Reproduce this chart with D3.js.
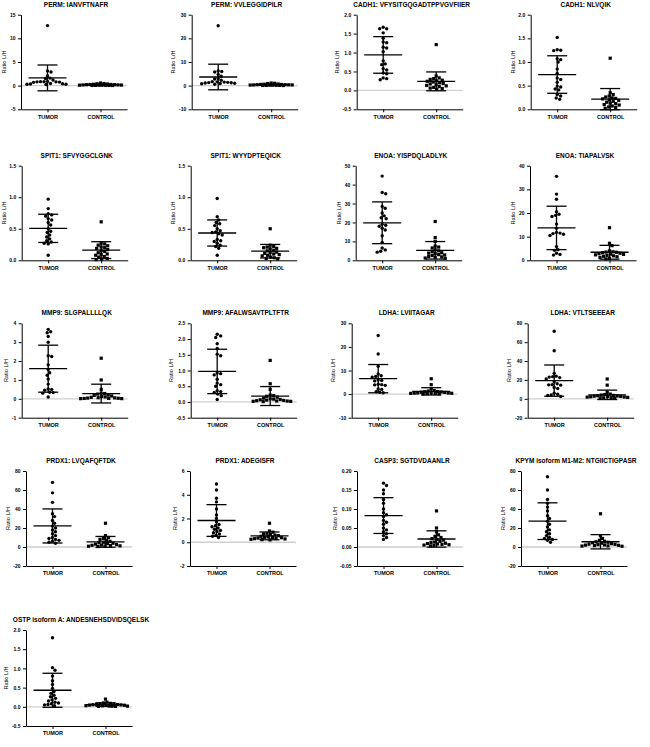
<!DOCTYPE html>
<html><head><meta charset="utf-8">
<script src="https://cdn.jsdelivr.net/npm/d3@7"></script>
<style>
body{margin:0;background:#fff}
svg{display:block}
text{font-family:"Liberation Sans",Arial,sans-serif}
</style>
</head><body>
<svg id="c" width="650" height="747"></svg>
<script>
// ---------------- data ----------------
const panelTitles = [
  "PERM: IANVFTNAFR", "PERM: VVLEGGIDPILR", "CADH1: VFYSITGQGADTPPVGVFIIER", "CADH1: NLVQIK",
  "SPIT1: SFVYGGCLGNK", "SPIT1: WYYDPTEQICK", "ENOA: YISPDQLADLYK", "ENOA: TIAPALVSK",
  "MMP9: SLGPALLLLQK", "MMP9: AFALWSAVTPLTFTR", "LDHA: LVIITAGAR", "LDHA: VTLTSEEEAR",
  "PRDX1: LVQAFQFTDK", "PRDX1: ADEGISFR", "CASP3: SGTDVDAANLR", "KPYM isoform M1-M2: NTGIICTIGPASR",
  "OSTP isoform A: ANDESNEHSDVIDSQELSK"
];
const groupLabels = ["TUMOR", "CONTROL"];
const yAxisTitle = "Ratio L/H";

const yTickLabels = [
  ["-5","0","5","10","15"],
  ["-10","0","10","20","30"],
  ["-0.5","0.0","0.5","1.0","1.5","2.0"],
  ["0.0","0.5","1.0","1.5","2.0"],
  ["0.0","0.5","1.0","1.5"],
  ["0.0","0.5","1.0","1.5"],
  ["0","10","20","30","40","50"],
  ["0","10","20","30","40"],
  ["-1","0","1","2","3","4"],
  ["-0.5","0.0","0.5","1.0","1.5","2.0","2.5"],
  ["-10","0","10","20","30"],
  ["-20","0","20","40","60","80"],
  ["-20","0","20","40","60","80"],
  ["-2","0","2","4","6"],
  ["-0.05","0.00","0.05","0.10","0.15","0.20"],
  ["-20","0","20","40","60","80"],
  ["-0.5","0.0","0.5","1.0","1.5","2.0"]
];

const tumorValues = [
  [12.7, 3.1, 2.9, 2.1, 1.6, 1.5, 1.2, 0.9, 0.85, 0.85, 0.8, 0.8, 0.75, 0.7, 0.45, 0.4, 0.35, 0.3, 0.3, 0.25],
  [25.3, 6.2, 6.0, 5.8, 4.7, 4.0, 3.0, 2.8, 2.3, 1.7, 1.6, 1.5, 1.4, 1.3, 1.2, 1.1, 1.0, 0.9, 0.8, 0.6],
  [1.67, 1.63, 1.63, 1.52, 1.38, 1.28, 1.26, 1.14, 1.12, 1.02, 0.78, 0.7, 0.68, 0.57, 0.54, 0.46, 0.44, 0.33, 0.31, 0.28],
  [1.52, 1.26, 1.25, 1.24, 1.07, 1.05, 1.0, 0.85, 0.76, 0.66, 0.63, 0.57, 0.49, 0.47, 0.43, 0.41, 0.31, 0.28, 0.24, 0.21],
  [0.97, 0.82, 0.74, 0.72, 0.7, 0.66, 0.64, 0.6, 0.56, 0.5, 0.46, 0.44, 0.4, 0.37, 0.34, 0.31, 0.29, 0.27, 0.26, 0.08],
  [0.98, 0.69, 0.64, 0.6, 0.58, 0.55, 0.5, 0.47, 0.45, 0.44, 0.42, 0.4, 0.33, 0.31, 0.3, 0.27, 0.24, 0.22, 0.19, 0.08],
  [44.5, 35.8, 35.2, 28.5, 27.5, 25, 23.5, 22.5, 22, 19, 18.5, 18, 17, 16, 13, 9.5, 6.5, 5.5, 4.8, 4.3],
  [35.5, 28, 25.8, 20.5, 19.5, 19, 18.5, 15.3, 13.5, 11.8, 11.5, 11.3, 11, 10.5, 5.8, 4.5, 4.2, 3, 2.5, 2.2],
  [3.68, 3.55, 3.5, 3.3, 3.0, 2.28, 2.24, 1.8, 1.55, 1.38, 1.25, 1.05, 0.78, 0.52, 0.5, 0.45, 0.35, 0.33, 0.3, 0.1],
  [2.15, 2.1, 2.05, 1.85, 1.7, 1.52, 1.47, 0.92, 0.9, 0.86, 0.72, 0.6, 0.55, 0.5, 0.36, 0.33, 0.3, 0.25, 0.2, 0.08],
  [24.8, 17, 11.8, 8.5, 7.8, 7.5, 7.2, 6, 5.8, 5.6, 4.2, 4, 3.9, 3.7, 2.2, 2, 1, 0.8, 0.6],
  [71.5, 51, 27, 24, 23.5, 23, 22.5, 21, 18, 16, 15, 14.8, 14.5, 12, 11, 6, 4.8, 4, 3.5, 2.5],
  [68, 57, 47, 35, 32, 28, 25, 22, 20, 18, 16, 14, 12, 10, 9, 8, 7, 6, 5, 4],
  [4.9, 4.4, 3.7, 3.4, 2.8, 2.3, 2.0, 1.7, 1.5, 1.4, 1.3, 1.2, 1.1, 1.0, 0.9, 0.8, 0.7, 0.6, 0.5, 0.4],
  [0.168, 0.162, 0.15, 0.14, 0.125, 0.115, 0.1, 0.09, 0.085, 0.08, 0.07, 0.065, 0.06, 0.05, 0.045, 0.04, 0.035, 0.03, 0.025, 0.02],
  [74, 60, 50, 46, 42, 38, 33, 30, 27, 24, 21, 18, 16, 14, 12, 10, 9, 8, 7, 5],
  [1.8, 1.02, 0.95, 0.8, 0.68, 0.58, 0.48, 0.4, 0.35, 0.3, 0.26, 0.22, 0.18, 0.15, 0.12, 0.1, 0.08, 0.06, 0.05, 0.03]
];

const controlValues = [
  [0.55, 0.45, 0.4, 0.35, 0.3, 0.25, 0.25, 0.2, 0.2, 0.15, 0.15, 0.12, 0.1, 0.1, 0.08, 0.07, 0.05, 0.05, 0.04, 0.03],
  [1.1, 1.0, 0.9, 0.7, 0.6, 0.5, 0.5, 0.4, 0.4, 0.35, 0.3, 0.3, 0.25, 0.2, 0.2, 0.15, 0.1, 0.1, 0.08, 0.05],
  [1.21, 0.38, 0.33, 0.31, 0.29, 0.27, 0.25, 0.24, 0.22, 0.2, 0.18, 0.17, 0.15, 0.13, 0.12, 0.1, 0.08, 0.06, 0.05, 0.03],
  [1.08, 0.35, 0.31, 0.28, 0.26, 0.24, 0.23, 0.22, 0.2, 0.19, 0.17, 0.15, 0.13, 0.12, 0.1, 0.09, 0.07, 0.05, 0.04, 0.02],
  [0.61, 0.27, 0.26, 0.24, 0.23, 0.21, 0.2, 0.19, 0.17, 0.15, 0.14, 0.12, 0.1, 0.09, 0.08, 0.06, 0.05, 0.03, 0.02, 0.01],
  [0.5, 0.24, 0.22, 0.21, 0.2, 0.19, 0.18, 0.16, 0.15, 0.13, 0.12, 0.11, 0.1, 0.09, 0.08, 0.07, 0.05, 0.04, 0.03, 0.02],
  [20.5, 12, 10, 7.5, 7, 6.5, 5.5, 5, 4.5, 4, 3.8, 3.5, 3, 2.8, 2.5, 2, 1.8, 1.5, 1.2, 1],
  [13.8, 7.2, 6.2, 4, 3.6, 3.5, 3.4, 3.2, 3, 2.8, 2.6, 2.5, 2.3, 2.1, 1.9, 1.7, 1.5, 1.2, 0.9, 0.6],
  [2.15, 1.0, 0.5, 0.3, 0.28, 0.25, 0.2, 0.18, 0.15, 0.12, 0.1, 0.08, 0.06, 0.05, 0.04, 0.03, 0.02, 0.02, 0.01, 0.01],
  [1.32, 0.58, 0.4, 0.22, 0.2, 0.18, 0.15, 0.12, 0.1, 0.09, 0.08, 0.07, 0.06, 0.05, 0.04, 0.03, 0.03, 0.02, 0.02, 0.01],
  [6.5, 4, 2.2, 1.5, 1.3, 1.1, 1, 0.9, 0.8, 0.7, 0.6, 0.5, 0.45, 0.4, 0.35, 0.3, 0.25, 0.2, 0.15, 0.1],
  [21, 14.5, 7, 5, 4.5, 4, 3.6, 3.3, 3, 2.8, 2.6, 2.4, 2.2, 2, 1.8, 1.5, 1.2, 1, 0.8, 0.5],
  [25, 12, 10, 9, 8, 7, 6, 5, 4.5, 4, 3.5, 3, 2.5, 2, 1.8, 1.5, 1.2, 1, 0.8, 0.5],
  [1.6, 0.95, 0.85, 0.75, 0.7, 0.65, 0.6, 0.55, 0.5, 0.45, 0.42, 0.4, 0.38, 0.35, 0.32, 0.3, 0.28, 0.25, 0.22, 0.2],
  [0.095, 0.05, 0.04, 0.032, 0.028, 0.025, 0.022, 0.02, 0.018, 0.015, 0.013, 0.012, 0.01, 0.009, 0.008, 0.007, 0.006, 0.005, 0.004, 0.003],
  [35, 12, 9, 7, 6, 5.5, 5, 4.5, 4, 3.5, 3, 2.8, 2.5, 2.2, 2, 1.8, 1.5, 1.2, 1, 0.8],
  [0.2, 0.12, 0.1, 0.09, 0.08, 0.07, 0.065, 0.06, 0.055, 0.05, 0.045, 0.04, 0.035, 0.03, 0.025, 0.02, 0.018, 0.015, 0.012, 0.01]
];

// ---------------- layout ----------------
const rowLayout = [
  {top: 14.7,  bottom: 109.3, axisX: [21, 191.7, 356.7, 530.7]},
  {top: 165.7, bottom: 260.3, axisX: [21.7, 190.7, 355.7, 530]},
  {top: 323.3, bottom: 417.7, axisX: [21.7, 190.7, 351.7, 527.7]},
  {top: 471,   bottom: 566,   axisX: [26, 190, 357, 521]},
  {top: 630,   bottom: 726,   axisX: [26]}
];
const AXW = 106;

const svg = d3.select("#c");

// Prism-like scatter: spread coincident points sideways, overlapping when crowded
function swarm(vals, cx, y, d, maxOff) {
  const pts = vals.map(v => ({v, py: y(v)})).sort((a, b) => a.py - b.py);
  const placed = [];
  const cands = [0];
  for (let k = 1; k * 0.5 <= maxOff; k++) { cands.push(k * 0.5, -k * 0.5); }
  pts.forEach(p => {
    let best = null, bestDist = -1;
    for (const o of cands) {
      const px = cx + o;
      let md = Infinity;
      for (const q of placed) md = Math.min(md, Math.hypot(q.px - px, q.py - p.py));
      if (md >= d) { best = px; break; }
      if (md > bestDist + 0.05) { bestDist = md; best = px; }
    }
    p.px = best; placed.push(p);
  });
  return pts;
}

panelTitles.forEach((title, i) => {
  const row = rowLayout[Math.floor(i / 4)];
  const ax = row.axisX[i % 4];
  const ticks = yTickLabels[i].map(Number);
  const y = d3.scaleLinear().domain(d3.extent(ticks)).range([row.bottom, row.top]);
  const x = d3.scalePoint().domain(groupLabels).range([ax, ax + AXW]).padding(0.5);
  const g = svg.append("g");

  // zero reference line
  if (y.domain()[0] < 0) {
    g.append("line").attr("x1", ax).attr("x2", ax + AXW)
      .attr("y1", y(0)).attr("y2", y(0))
      .attr("stroke", "#cfcfcf").attr("stroke-width", 1.3);
  }

  // y axis
  const ya = g.append("g").attr("transform", `translate(${ax},0)`)
    .call(d3.axisLeft(y).tickValues(ticks).tickFormat((d, k) => yTickLabels[i][k])
      .tickSize(3).tickSizeOuter(0).tickPadding(2.5));
  ya.attr("font-size", null).attr("font-family", null);
  ya.selectAll("text").attr("font-size", 5).attr("font-weight", "bold").attr("fill", "#000");
  ya.selectAll("line,path").attr("stroke", "#000").attr("stroke-width", 1);

  let maxW = 0;
  ya.selectAll("text").each(function () { maxW = Math.max(maxW, this.getComputedTextLength()); });

  // x axis
  const xa = g.append("g").attr("transform", `translate(0,${row.bottom})`)
    .call(d3.axisBottom(x).tickSize(3).tickSizeOuter(0).tickPadding(2.5));
  xa.attr("font-size", null).attr("font-family", null);
  xa.selectAll("text").attr("font-size", 5.5).attr("font-weight", "bold").attr("fill", "#000");
  xa.selectAll("line,path").attr("stroke", "#000").attr("stroke-width", 1);

  // y axis title
  g.append("text")
    .attr("transform", `translate(${ax - 3 - 2.5 - maxW - 3.5},${(row.top + row.bottom) / 2}) rotate(-90)`)
    .attr("text-anchor", "middle").attr("font-size", 5.5).attr("fill", "#000")
    .text(yAxisTitle);

  // panel title
  g.append("text")
    .attr("x", ax + AXW / 2 + 2).attr("y", row.top - 8)
    .attr("text-anchor", "middle").attr("font-size", 6.5).attr("font-weight", "bold")
    .text(title);

  // groups
  [tumorValues[i], controlValues[i]].forEach((vals, gi) => {
    const cx = x(groupLabels[gi]);
    const m = d3.mean(vals), sd = d3.deviation(vals);
    const eb = g.append("g").attr("stroke", "#000").attr("stroke-width", 1.3);
    eb.append("line").attr("x1", cx).attr("x2", cx).attr("y1", y(m - sd)).attr("y2", y(m + sd));
    eb.append("line").attr("x1", cx - 10).attr("x2", cx + 10).attr("y1", y(m + sd)).attr("y2", y(m + sd));
    eb.append("line").attr("x1", cx - 10).attr("x2", cx + 10).attr("y1", y(m - sd)).attr("y2", y(m - sd));
    eb.append("line").attr("x1", cx - 19).attr("x2", cx + 19).attr("y1", y(m)).attr("y2", y(m));

    const pts = swarm(vals, cx, y, 3.4, 22);
    if (gi === 0) {
      g.selectAll(null).data(pts).join("circle")
        .attr("cx", d => d.px).attr("cy", d => d.py).attr("r", 1.7).attr("fill", "#000");
    } else {
      g.selectAll(null).data(pts).join("rect")
        .attr("x", d => d.px - 1.6).attr("y", d => d.py - 1.6)
        .attr("width", 3.2).attr("height", 3.2).attr("fill", "#000");
    }
  });
});
</script>
</body></html>
